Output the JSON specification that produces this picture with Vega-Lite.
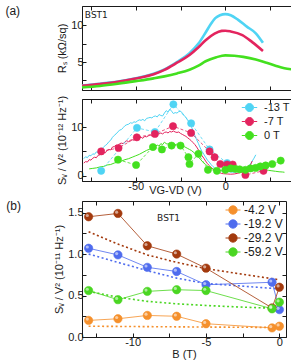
{
  "$schema": "https://vega.github.io/schema/vega-lite/v6.json",
  "padding": {"left": 4, "top": 4, "right": 10, "bottom": 2},
  "background": "white",
  "config": {
    "font": "Liberation Sans",
    "view": {"stroke": "#1a1a1a", "strokeWidth": 1},
    "axis": {"grid": false, "domainColor": "#1a1a1a", "domainWidth": 1, "tickColor": "#1a1a1a", "tickSize": -4, "tickWidth": 1,
      "labelFont": "Liberation Sans", "labelFontSize": 11, "labelColor": "#1a1a1a", "labelPadding": 3, "labelFlush": false, "labelOverlap": false,
      "titleFont": "Liberation Sans", "titleFontSize": 11, "titleFontWeight": "normal", "titleColor": "#1a1a1a", "titlePadding": 3},
    "title": {"fontWeight": "normal", "fontSize": 12, "color": "#1a1a1a", "font": "Liberation Sans"}
  },
  "datasets": {
    "rs": [
      {"s":"-13 T","v":-80,"r":1.8},{"s":"-13 T","v":-70,"r":2.05},{"s":"-13 T","v":-60,"r":2.35},{"s":"-13 T","v":-50,"r":2.8},{"s":"-13 T","v":-40,"r":3.4},{"s":"-13 T","v":-34,"r":4.0},{"s":"-13 T","v":-27,"r":5.0},{"s":"-13 T","v":-20,"r":6.2},{"s":"-13 T","v":-15,"r":7.5},{"s":"-13 T","v":-11,"r":9.0},{"s":"-13 T","v":-8,"r":10.2},{"s":"-13 T","v":-5.6,"r":10.95},{"s":"-13 T","v":-3,"r":11.35},{"s":"-13 T","v":0,"r":11.5},{"s":"-13 T","v":3,"r":11.35},{"s":"-13 T","v":7,"r":10.75},{"s":"-13 T","v":12,"r":9.8},{"s":"-13 T","v":17,"r":8.9},{"s":"-13 T","v":21,"r":7.6},
      {"s":"-7 T","v":-80,"r":1.78},{"s":"-7 T","v":-70,"r":2.02},{"s":"-7 T","v":-60,"r":2.32},{"s":"-7 T","v":-50,"r":2.76},{"s":"-7 T","v":-40,"r":3.33},{"s":"-7 T","v":-34,"r":3.93},{"s":"-7 T","v":-27,"r":4.9},{"s":"-7 T","v":-20,"r":5.95},{"s":"-7 T","v":-15,"r":7.0},{"s":"-7 T","v":-11,"r":7.95},{"s":"-7 T","v":-6,"r":8.85},{"s":"-7 T","v":-2,"r":9.22},{"s":"-7 T","v":0,"r":9.25},{"s":"-7 T","v":3,"r":9.15},{"s":"-7 T","v":9.5,"r":8.65},{"s":"-7 T","v":15,"r":7.7},{"s":"-7 T","v":21,"r":6.5},
      {"s":"0 T","v":-80,"r":1.55},{"s":"0 T","v":-70,"r":1.75},{"s":"0 T","v":-60,"r":2.05},{"s":"0 T","v":-50,"r":2.4},{"s":"0 T","v":-40,"r":2.78},{"s":"0 T","v":-34,"r":3.05},{"s":"0 T","v":-27,"r":3.45},{"s":"0 T","v":-20,"r":3.95},{"s":"0 T","v":-15,"r":4.5},{"s":"0 T","v":-11,"r":5.1},{"s":"0 T","v":-5,"r":5.65},{"s":"0 T","v":0,"r":5.9},{"s":"0 T","v":5,"r":5.85},{"s":"0 T","v":10,"r":5.7},{"s":"0 T","v":17,"r":5.35},{"s":"0 T","v":23,"r":4.9},{"s":"0 T","v":28,"r":4.5},{"s":"0 T","v":33,"r":4.15},{"s":"0 T","v":37,"r":4.0}
    ],
    "svl": [
      {"s":"-13 T","v":-79,"y":3.5},{"s":"-13 T","v":-78,"y":3.9},{"s":"-13 T","v":-77,"y":3.7},{"s":"-13 T","v":-76,"y":4.2},{"s":"-13 T","v":-75,"y":4.1},{"s":"-13 T","v":-74,"y":4.5},{"s":"-13 T","v":-73,"y":4.4},{"s":"-13 T","v":-72,"y":4.9},{"s":"-13 T","v":-71,"y":4.8},{"s":"-13 T","v":-70,"y":5.3},{"s":"-13 T","v":-69,"y":5.5},{"s":"-13 T","v":-68,"y":5.9},{"s":"-13 T","v":-67,"y":6.2},{"s":"-13 T","v":-66,"y":6.5},{"s":"-13 T","v":-65,"y":7.0},{"s":"-13 T","v":-64,"y":7.3},{"s":"-13 T","v":-63,"y":7.9},{"s":"-13 T","v":-62,"y":8.3},{"s":"-13 T","v":-61,"y":8.6},{"s":"-13 T","v":-60,"y":9.0},{"s":"-13 T","v":-59,"y":9.4},{"s":"-13 T","v":-58,"y":9.5},{"s":"-13 T","v":-57,"y":9.9},{"s":"-13 T","v":-56,"y":10.3},{"s":"-13 T","v":-55,"y":10.5},{"s":"-13 T","v":-54,"y":10.6},{"s":"-13 T","v":-53,"y":10.9},{"s":"-13 T","v":-52,"y":10.8},{"s":"-13 T","v":-51,"y":11.1},{"s":"-13 T","v":-50,"y":11.0},{"s":"-13 T","v":-49,"y":11.3},{"s":"-13 T","v":-48,"y":11.5},{"s":"-13 T","v":-47,"y":11.4},{"s":"-13 T","v":-46,"y":11.6},{"s":"-13 T","v":-45,"y":11.3},{"s":"-13 T","v":-44,"y":11.8},{"s":"-13 T","v":-43,"y":11.9},{"s":"-13 T","v":-42,"y":12.0},{"s":"-13 T","v":-41,"y":11.9},{"s":"-13 T","v":-40,"y":12.2},{"s":"-13 T","v":-39,"y":12.3},{"s":"-13 T","v":-38,"y":12.1},{"s":"-13 T","v":-37,"y":12.6},{"s":"-13 T","v":-36,"y":12.4},{"s":"-13 T","v":-35,"y":12.3},{"s":"-13 T","v":-34,"y":12.9},{"s":"-13 T","v":-33,"y":13.4},{"s":"-13 T","v":-32,"y":13.1},{"s":"-13 T","v":-31,"y":13.7},{"s":"-13 T","v":-30,"y":13.3},{"s":"-13 T","v":-29,"y":12.8},{"s":"-13 T","v":-28,"y":13.0},{"s":"-13 T","v":-27,"y":12.9},{"s":"-13 T","v":-26,"y":13.2},{"s":"-13 T","v":-25,"y":13.3},{"s":"-13 T","v":-24,"y":12.9},{"s":"-13 T","v":-23,"y":12.4},{"s":"-13 T","v":-22,"y":12.0},{"s":"-13 T","v":-21,"y":11.4},{"s":"-13 T","v":-20,"y":10.9},{"s":"-13 T","v":-19,"y":10.2},{"s":"-13 T","v":-18,"y":9.2},{"s":"-13 T","v":-17,"y":8.3},{"s":"-13 T","v":-16,"y":7.4},{"s":"-13 T","v":-15,"y":6.6},{"s":"-13 T","v":-14,"y":5.7},{"s":"-13 T","v":-13,"y":5.0},{"s":"-13 T","v":-12,"y":4.4},{"s":"-13 T","v":-11,"y":3.8},{"s":"-13 T","v":-10,"y":3.2},{"s":"-13 T","v":-9,"y":2.8},{"s":"-13 T","v":-8,"y":2.3},{"s":"-13 T","v":-7,"y":1.9},{"s":"-13 T","v":-6,"y":1.6},{"s":"-13 T","v":-5,"y":1.4},{"s":"-13 T","v":-4,"y":1.2},{"s":"-13 T","v":-3,"y":1.1},{"s":"-13 T","v":-2,"y":1.0},{"s":"-13 T","v":-1,"y":0.9},{"s":"-13 T","v":0,"y":0.9},{"s":"-13 T","v":2,"y":0.8},{"s":"-13 T","v":4,"y":0.7},{"s":"-13 T","v":6,"y":0.75},{"s":"-13 T","v":8,"y":0.9},{"s":"-13 T","v":10,"y":1.1},{"s":"-13 T","v":12,"y":1.6},{"s":"-13 T","v":14,"y":2.4},{"s":"-13 T","v":15,"y":3.0},{"s":"-13 T","v":16,"y":3.6},{"s":"-13 T","v":17,"y":4.3},
      {"s":"-7 T","v":-79,"y":2.6},{"s":"-7 T","v":-78,"y":2.9},{"s":"-7 T","v":-77,"y":2.8},{"s":"-7 T","v":-76,"y":3.3},{"s":"-7 T","v":-75,"y":3.2},{"s":"-7 T","v":-74,"y":3.6},{"s":"-7 T","v":-73,"y":3.8},{"s":"-7 T","v":-72,"y":3.7},{"s":"-7 T","v":-71,"y":4.2},{"s":"-7 T","v":-70,"y":4.3},{"s":"-7 T","v":-69,"y":4.5},{"s":"-7 T","v":-68,"y":4.8},{"s":"-7 T","v":-67,"y":4.7},{"s":"-7 T","v":-66,"y":5.2},{"s":"-7 T","v":-65,"y":5.4},{"s":"-7 T","v":-64,"y":5.3},{"s":"-7 T","v":-63,"y":5.9},{"s":"-7 T","v":-62,"y":6.0},{"s":"-7 T","v":-61,"y":6.3},{"s":"-7 T","v":-60,"y":6.2},{"s":"-7 T","v":-59,"y":6.6},{"s":"-7 T","v":-58,"y":6.7},{"s":"-7 T","v":-57,"y":6.6},{"s":"-7 T","v":-56,"y":7.0},{"s":"-7 T","v":-55,"y":7.2},{"s":"-7 T","v":-54,"y":7.0},{"s":"-7 T","v":-53,"y":7.3},{"s":"-7 T","v":-52,"y":7.4},{"s":"-7 T","v":-51,"y":7.3},{"s":"-7 T","v":-50,"y":7.6},{"s":"-7 T","v":-49,"y":7.5},{"s":"-7 T","v":-48,"y":7.8},{"s":"-7 T","v":-47,"y":7.9},{"s":"-7 T","v":-46,"y":7.7},{"s":"-7 T","v":-45,"y":8.1},{"s":"-7 T","v":-44,"y":8.0},{"s":"-7 T","v":-43,"y":8.2},{"s":"-7 T","v":-42,"y":8.4},{"s":"-7 T","v":-41,"y":8.2},{"s":"-7 T","v":-40,"y":8.5},{"s":"-7 T","v":-39,"y":8.4},{"s":"-7 T","v":-38,"y":8.7},{"s":"-7 T","v":-37,"y":8.6},{"s":"-7 T","v":-36,"y":8.8},{"s":"-7 T","v":-35,"y":8.6},{"s":"-7 T","v":-34,"y":8.9},{"s":"-7 T","v":-33,"y":9.0},{"s":"-7 T","v":-32,"y":8.8},{"s":"-7 T","v":-31,"y":9.1},{"s":"-7 T","v":-30,"y":9.0},{"s":"-7 T","v":-29,"y":9.2},{"s":"-7 T","v":-28,"y":9.0},{"s":"-7 T","v":-27,"y":8.9},{"s":"-7 T","v":-26,"y":9.0},{"s":"-7 T","v":-25,"y":8.7},{"s":"-7 T","v":-24,"y":8.5},{"s":"-7 T","v":-23,"y":8.3},{"s":"-7 T","v":-22,"y":8.1},{"s":"-7 T","v":-21,"y":7.8},{"s":"-7 T","v":-20,"y":7.5},{"s":"-7 T","v":-19,"y":7.2},{"s":"-7 T","v":-18,"y":6.8},{"s":"-7 T","v":-17,"y":6.4},{"s":"-7 T","v":-16,"y":5.9},{"s":"-7 T","v":-15,"y":5.3},{"s":"-7 T","v":-14,"y":4.7},{"s":"-7 T","v":-13,"y":4.1},{"s":"-7 T","v":-12,"y":3.6},{"s":"-7 T","v":-11,"y":3.0},{"s":"-7 T","v":-10,"y":2.5},{"s":"-7 T","v":-9,"y":2.1},{"s":"-7 T","v":-8,"y":1.7},{"s":"-7 T","v":-7,"y":1.4},{"s":"-7 T","v":-6,"y":1.1},{"s":"-7 T","v":-5,"y":0.9},{"s":"-7 T","v":-4,"y":0.7},{"s":"-7 T","v":-3,"y":0.6},{"s":"-7 T","v":-2,"y":0.45},{"s":"-7 T","v":-1,"y":0.4},{"s":"-7 T","v":1,"y":0.35},{"s":"-7 T","v":3,"y":0.3},{"s":"-7 T","v":5,"y":0.35},{"s":"-7 T","v":7,"y":0.5},{"s":"-7 T","v":9,"y":0.7},{"s":"-7 T","v":11,"y":1.0},{"s":"-7 T","v":13,"y":1.6},{"s":"-7 T","v":14,"y":2.2},{"s":"-7 T","v":15,"y":3.0},
      {"s":"0 T","v":-76,"y":1.4},{"s":"0 T","v":-74,"y":1.5},{"s":"0 T","v":-72,"y":1.6},{"s":"0 T","v":-70,"y":1.8},{"s":"0 T","v":-68,"y":1.9},{"s":"0 T","v":-66,"y":2.2},{"s":"0 T","v":-64,"y":2.3},{"s":"0 T","v":-62,"y":2.6},{"s":"0 T","v":-60,"y":2.8},{"s":"0 T","v":-58,"y":3.0},{"s":"0 T","v":-56,"y":3.3},{"s":"0 T","v":-54,"y":3.5},{"s":"0 T","v":-52,"y":3.8},{"s":"0 T","v":-50,"y":4.1},{"s":"0 T","v":-48,"y":4.4},{"s":"0 T","v":-46,"y":4.8},{"s":"0 T","v":-44,"y":5.2},{"s":"0 T","v":-42,"y":5.5},{"s":"0 T","v":-40,"y":5.9},{"s":"0 T","v":-38,"y":6.3},{"s":"0 T","v":-37,"y":6.1},{"s":"0 T","v":-36,"y":6.6},{"s":"0 T","v":-35,"y":6.4},{"s":"0 T","v":-34,"y":6.9},{"s":"0 T","v":-33,"y":6.6},{"s":"0 T","v":-32,"y":6.5},{"s":"0 T","v":-31,"y":6.7},{"s":"0 T","v":-30,"y":6.5},{"s":"0 T","v":-29,"y":6.6},{"s":"0 T","v":-28,"y":6.4},{"s":"0 T","v":-27,"y":6.5},{"s":"0 T","v":-26,"y":6.2},{"s":"0 T","v":-25,"y":6.3},{"s":"0 T","v":-24,"y":6.1},{"s":"0 T","v":-23,"y":6.0},{"s":"0 T","v":-22,"y":5.8},{"s":"0 T","v":-21,"y":5.6},{"s":"0 T","v":-20,"y":5.4},{"s":"0 T","v":-19,"y":5.2},{"s":"0 T","v":-18,"y":4.9},{"s":"0 T","v":-17,"y":4.6},{"s":"0 T","v":-16,"y":4.2},{"s":"0 T","v":-15,"y":3.8},{"s":"0 T","v":-14,"y":3.4},{"s":"0 T","v":-13,"y":3.0},{"s":"0 T","v":-12,"y":2.6},{"s":"0 T","v":-11,"y":2.3},{"s":"0 T","v":-10,"y":2.0},{"s":"0 T","v":-9,"y":1.8},{"s":"0 T","v":-8,"y":1.5},{"s":"0 T","v":-7,"y":1.4},{"s":"0 T","v":-6,"y":1.2},{"s":"0 T","v":-5,"y":1.1},{"s":"0 T","v":-4,"y":1.0},{"s":"0 T","v":-2,"y":1.0},{"s":"0 T","v":0,"y":1.0},{"s":"0 T","v":2,"y":1.1},{"s":"0 T","v":4,"y":1.1},{"s":"0 T","v":6,"y":1.2},{"s":"0 T","v":8,"y":1.1},{"s":"0 T","v":10,"y":1.2},{"s":"0 T","v":12,"y":1.4},{"s":"0 T","v":14,"y":1.5},{"s":"0 T","v":16,"y":1.7},{"s":"0 T","v":18,"y":1.8},{"s":"0 T","v":20,"y":1.6},{"s":"0 T","v":22,"y":1.3},{"s":"0 T","v":24,"y":1.1},{"s":"0 T","v":26,"y":1.0},{"s":"0 T","v":28,"y":0.9},{"s":"0 T","v":30,"y":0.8},{"s":"0 T","v":32,"y":0.75},{"s":"0 T","v":33,"y":0.7}
    ],
    "svp": [
      {"s":"-13 T","v":-69.3,"y":1.0},{"s":"-13 T","v":-49.3,"y":9.85},{"s":"-13 T","v":-39.3,"y":9.0},{"s":"-13 T","v":-29.0,"y":14.7},{"s":"-13 T","v":-19.1,"y":10.8},{"s":"-13 T","v":-8.8,"y":5.4},{"s":"-13 T","v":1.0,"y":2.6},
      {"s":"-7 T","v":-69.3,"y":5.0},{"s":"-7 T","v":-59.6,"y":5.7},{"s":"-7 T","v":-49.4,"y":7.9},{"s":"-7 T","v":-39.3,"y":8.6},{"s":"-7 T","v":-29.2,"y":10.2},{"s":"-7 T","v":-19.1,"y":8.8},{"s":"-7 T","v":-8.8,"y":5.0},{"s":"-7 T","v":-6.0,"y":3.8},{"s":"-7 T","v":-2.8,"y":2.4},{"s":"-7 T","v":1.0,"y":2.3},{"s":"-7 T","v":4.1,"y":2.3},{"s":"-7 T","v":11.2,"y":0.15},{"s":"-7 T","v":21.3,"y":1.0},
      {"s":"0 T","v":-59.9,"y":3.3},{"s":"0 T","v":-49.8,"y":2.2},{"s":"0 T","v":-40.4,"y":5.9},{"s":"0 T","v":-35.4,"y":5.4},{"s":"0 T","v":-30.0,"y":6.2},{"s":"0 T","v":-25.0,"y":6.2},{"s":"0 T","v":-20.6,"y":3.8},{"s":"0 T","v":-20.0,"y":2.4},{"s":"0 T","v":-15.0,"y":4.5},{"s":"0 T","v":-9.7,"y":1.2},{"s":"0 T","v":-4.7,"y":1.0},{"s":"0 T","v":0,"y":1.2},{"s":"0 T","v":3,"y":1.5},{"s":"0 T","v":5.6,"y":1.4},{"s":"0 T","v":8,"y":1.3},{"s":"0 T","v":11.2,"y":1.2},{"s":"0 T","v":14,"y":1.5},{"s":"0 T","v":16.9,"y":1.6},{"s":"0 T","v":19.5,"y":1.9},{"s":"0 T","v":22.5,"y":2.1},{"s":"0 T","v":26.2,"y":2.4},{"s":"0 T","v":30.9,"y":3.1}
    ],
    "bfit": [
      {"s":"-4.2 V","b":-13,"y":0.13},{"s":"-4.2 V","b":-9,"y":0.125},{"s":"-4.2 V","b":-5,"y":0.12},{"s":"-4.2 V","b":0,"y":0.115},
      {"s":"-19.2 V","b":-13,"y":1.0},{"s":"-19.2 V","b":-11,"y":0.9},{"s":"-19.2 V","b":-9,"y":0.8},{"s":"-19.2 V","b":-7,"y":0.71},{"s":"-19.2 V","b":-5,"y":0.645},{"s":"-19.2 V","b":-3,"y":0.62},{"s":"-19.2 V","b":-1.5,"y":0.6},{"s":"-19.2 V","b":0,"y":0.58},
      {"s":"-29.2 V","b":-13,"y":1.27},{"s":"-29.2 V","b":-11,"y":1.12},{"s":"-29.2 V","b":-9,"y":0.99},{"s":"-29.2 V","b":-7,"y":0.9},{"s":"-29.2 V","b":-5,"y":0.825},{"s":"-29.2 V","b":-3,"y":0.77},{"s":"-29.2 V","b":-1.5,"y":0.73},{"s":"-29.2 V","b":0,"y":0.69},
      {"s":"-59.2 V","b":-13,"y":0.55},{"s":"-59.2 V","b":-11,"y":0.48},{"s":"-59.2 V","b":-9,"y":0.43},{"s":"-59.2 V","b":-7,"y":0.4},{"s":"-59.2 V","b":-5,"y":0.38},{"s":"-59.2 V","b":-2.5,"y":0.36},{"s":"-59.2 V","b":0,"y":0.345}
    ],
    "bpts": [
      {"s":"-4.2 V","b":-13,"y":0.20},{"s":"-4.2 V","b":-11,"y":0.22},{"s":"-4.2 V","b":-9,"y":0.26},{"s":"-4.2 V","b":-7,"y":0.25},{"s":"-4.2 V","b":-5,"y":0.16},{"s":"-4.2 V","b":-0.5,"y":0.11},{"s":"-4.2 V","b":0,"y":0.13},
      {"s":"-19.2 V","b":-13,"y":1.07},{"s":"-19.2 V","b":-11,"y":0.99},{"s":"-19.2 V","b":-9,"y":0.84},{"s":"-19.2 V","b":-7,"y":0.79},{"s":"-19.2 V","b":-5,"y":0.63},{"s":"-19.2 V","b":-0.5,"y":0.66},{"s":"-19.2 V","b":0,"y":0.33},
      {"s":"-29.2 V","b":-13,"y":1.45},{"s":"-29.2 V","b":-11,"y":1.49},{"s":"-29.2 V","b":-9,"y":1.10},{"s":"-29.2 V","b":-7,"y":1.00},{"s":"-29.2 V","b":-5,"y":0.83},{"s":"-29.2 V","b":-0.5,"y":0.35},{"s":"-29.2 V","b":0,"y":0.60},
      {"s":"-59.2 V","b":-13,"y":0.56},{"s":"-59.2 V","b":-11,"y":0.45},{"s":"-59.2 V","b":-9,"y":0.55},{"s":"-59.2 V","b":-7,"y":0.57},{"s":"-59.2 V","b":-5,"y":0.56},{"s":"-59.2 V","b":-0.5,"y":0.34},{"s":"-59.2 V","b":0,"y":0.42}
    ]
  },
  "concat": [
    {
      "vconcat": [
        {
          "width": 215, "height": 84,
          "title": {"text": "(a)", "orient": "left", "angle": 0, "anchor": "end", "align": "right", "baseline": "top", "offset": 22},
          "layer": [
            {
              "data": {"name": "rs"},
              "mark": {"type": "line", "strokeWidth": 2.6, "interpolate": "monotone"},
              "encoding": {
                "x": {"field": "v", "type": "quantitative", "scale": {"domain": [-80, 40], "nice": false, "zero": false}, "axis": {"orient": "bottom", "values": [-75, -50, -25, 0, 25], "labels": false, "title": null, "minExtent": 0}},
                "y": {"field": "r", "type": "quantitative", "scale": {"domain": [1.2, 12.6], "nice": false, "zero": false}, "axis": {"orient": "left", "values": [2.5, 5, 7.5, 10], "labelExpr": "datum.value === 5 || datum.value === 10 ? datum.label : ''", "title": "Rₛ (kΩ/sq)"}},
                "color": {"field": "s", "type": "nominal", "scale": {"domain": ["-13 T", "-7 T", "0 T"], "range": ["#4fd4f4", "#e3245e", "#43e01f"]}, "legend": null}
              }
            },
            {
              "data": {"name": "rs"},
              "mark": {"type": "line", "opacity": 0},
              "encoding": {
                "x": {"field": "v", "type": "quantitative", "axis": {"orient": "top", "values": [-75, -50, -25, 0, 25], "labels": false, "title": null, "domain": false, "minExtent": 0}},
                "y": {"field": "r", "type": "quantitative", "axis": {"orient": "right", "values": [2.5, 5, 7.5, 10], "labels": false, "title": null, "domain": false, "minExtent": 0}}
              }
            },
            {
              "data": {"values": [{"t": "BST1"}]},
              "mark": {"type": "text", "font": "DejaVu Sans", "fontSize": 9, "color": "#1a1a1a", "align": "center"},
              "encoding": {
                "x": {"datum": -72, "type": "quantitative", "axis": null},
                "y": {"datum": 11.4, "type": "quantitative", "axis": null},
                "text": {"field": "t"}
              }
            }
          ],
          "resolve": {"axis": {"x": "independent", "y": "independent"}}
        },
        {
          "width": 215, "height": 82,
          "layer": [
            {
              "data": {"name": "svl"},
              "mark": {"type": "line", "strokeWidth": 1},
              "encoding": {
                "x": {"field": "v", "type": "quantitative", "scale": {"domain": [-80, 40], "nice": false, "zero": false}, "axis": {"orient": "bottom", "values": [-75, -50, -25, 0, 25], "labelExpr": "datum.value === -50 ? '-50' : datum.value === 0 ? '0' : ''", "title": "VG-VD (V)", "titleX": 93, "titleY": 3, "titleBaseline": "top", "titleAlign": "center"}},
                "y": {"field": "y", "type": "quantitative", "scale": {"domain": [-1.1, 15.8], "nice": false, "zero": false}, "axis": {"orient": "left", "values": [0, 5, 10], "labelExpr": "datum.value === 5 ? '' : datum.label", "title": "Sᵥ / V² (10⁻¹² Hz⁻¹)"}},
                "color": {"field": "s", "type": "nominal", "scale": {"range": ["#4fd4f4", "#e3245e", "#43e01f"]}, "legend": null}
              }
            },
            {
              "data": {"name": "svl"},
              "mark": {"type": "line", "opacity": 0},
              "encoding": {
                "x": {"field": "v", "type": "quantitative", "axis": {"orient": "top", "values": [-75, -50, -25, 0, 25], "labels": false, "title": null, "domain": false, "minExtent": 0}},
                "y": {"field": "y", "type": "quantitative", "axis": {"orient": "right", "values": [0, 5, 10], "labels": false, "title": null, "domain": false, "minExtent": 0}}
              }
            },
            {
              "data": {"name": "svp"},
              "mark": {"type": "line", "strokeWidth": 0.8, "strokeDash": [3, 2]},
              "encoding": {
                "x": {"field": "v", "type": "quantitative", "axis": null},
                "y": {"field": "y", "type": "quantitative", "axis": null},
                "color": {"field": "s", "type": "nominal", "legend": null}
              }
            },
            {
              "data": {"name": "svp"},
              "mark": {"type": "circle", "size": 52, "opacity": 1, "strokeWidth": 0.6},
              "encoding": {
                "x": {"field": "v", "type": "quantitative", "axis": null},
                "y": {"field": "y", "type": "quantitative", "axis": null},
                "fill": {"field": "s", "type": "nominal", "scale": {"domain": ["-13 T", "-7 T", "0 T"], "range": ["#4fd4f4", "#e3245e", "#43e01f"]},
                  "legend": {"orient": "none", "legendX": 160, "legendY": 1, "padding": 0, "title": null, "labelFontSize": 11, "labelFont": "Liberation Sans", "labelColor": "#1a1a1a", "labelLimit": 60, "symbolType": "M-1.1,0H-0.6M0.6,0H1.1M-0.57,0A0.57,0.57,0,1,1,0.57,0A0.57,0.57,0,1,1,-0.57,0Z", "symbolSize": 196, "symbolStrokeWidth": 1, "rowPadding": 0, "labelOffset": 7}},
                "stroke": {"field": "s", "type": "nominal", "scale": {"domain": ["-13 T", "-7 T", "0 T"], "range": ["#4fd4f4", "#e3245e", "#43e01f"]}}
              }
            }
          ],
          "resolve": {"axis": {"x": "independent", "y": "independent"}}
        }
      ],
      "spacing": 0,
      "resolve": {"scale": {"color": "independent", "fill": "independent", "stroke": "independent"}, "legend": {"color": "independent", "fill": "independent", "stroke": "independent"}}
    },
    {
      "width": 204, "height": 136,
      "title": {"text": "(b)", "orient": "left", "angle": 0, "anchor": "end", "align": "right", "baseline": "top", "offset": 18},
      "layer": [
        {
          "data": {"name": "bfit"},
          "mark": {"type": "line", "strokeWidth": 1.6, "strokeDash": [2, 2.5]},
          "encoding": {
            "x": {"field": "b", "type": "quantitative", "scale": {"domain": [-13.45, 0.45], "nice": false, "zero": false}, "axis": {"orient": "bottom", "values": [-12.5, -10, -7.5, -5, -2.5, 0], "labelExpr": "datum.value === -10 ? '-10' : datum.value === -5 ? '-5' : datum.value === 0 ? '0' : ''", "title": "B (T)", "titlePadding": 1}},
            "y": {"field": "y", "type": "quantitative", "scale": {"domain": [0, 1.64], "nice": false, "zero": false}, "axis": {"orient": "left", "values": [0, 0.25, 0.5, 0.75, 1, 1.25, 1.5], "labelExpr": "datum.value % 0.5 === 0 ? format(datum.value, '.1f') : ''", "title": "Sᵥ / V² (10⁻¹¹ Hz⁻¹)"}},
            "color": {"field": "s", "type": "nominal", "scale": {"range": ["#4f6cee", "#a33a0e", "#f5902c", "#4ad622"]}, "legend": null}
          }
        },
        {
          "data": {"name": "bfit"},
          "mark": {"type": "line", "opacity": 0},
          "encoding": {
            "x": {"field": "b", "type": "quantitative", "axis": {"orient": "top", "values": [-12.5, -10, -7.5, -5, -2.5, 0], "labels": false, "title": null, "domain": false, "minExtent": 0}},
            "y": {"field": "y", "type": "quantitative", "axis": {"orient": "right", "values": [0, 0.25, 0.5, 0.75, 1, 1.25, 1.5], "labels": false, "title": null, "domain": false, "minExtent": 0}}
          }
        },
        {
          "data": {"name": "bpts"},
          "mark": {"type": "line", "strokeWidth": 0.9, "opacity": 0.9},
          "encoding": {
            "x": {"field": "b", "type": "quantitative", "axis": null},
            "y": {"field": "y", "type": "quantitative", "axis": null},
            "color": {"field": "s", "type": "nominal", "legend": null}
          }
        },
        {
          "data": {"name": "bpts"},
          "mark": {"type": "circle", "size": 70, "opacity": 1, "strokeWidth": 0.6},
          "encoding": {
            "x": {"field": "b", "type": "quantitative", "axis": null},
            "y": {"field": "y", "type": "quantitative", "axis": null},
            "fill": {"field": "s", "type": "nominal", "scale": {"domain": ["-4.2 V", "-19.2 V", "-29.2 V", "-59.2 V"], "range": ["#f5902c", "#4f6cee", "#a33a0e", "#4ad622"]},
              "legend": {"orient": "none", "legendX": 144, "legendY": 2, "padding": 0, "title": null, "labelFontSize": 12, "labelFont": "Liberation Sans", "labelColor": "#1a1a1a", "symbolType": "M-1.15,0H-0.65M0.65,0H1.15M-0.64,0A0.64,0.64,0,1,1,0.64,0A0.64,0.64,0,1,1,-0.64,0Z", "symbolSize": 169, "symbolStrokeWidth": 1, "rowPadding": 0, "labelOffset": 4}},
            "stroke": {"field": "s", "type": "nominal", "scale": {"domain": ["-4.2 V", "-19.2 V", "-29.2 V", "-59.2 V"], "range": ["#f5902c", "#4f6cee", "#a33a0e", "#4ad622"]}}
          }
        },
        {
          "data": {"name": "bpts"},
          "mark": {"type": "circle", "size": 10, "color": "white", "opacity": 0.55},
          "encoding": {
            "x": {"field": "b", "type": "quantitative", "axis": null},
            "y": {"field": "y", "type": "quantitative", "axis": null},
            "xOffset": {"value": -1.3},
            "yOffset": {"value": -1.3}
          }
        },
        {
          "data": {"values": [{"t": "BST1"}]},
          "mark": {"type": "text", "font": "DejaVu Sans", "fontSize": 9, "color": "#1a1a1a", "align": "center"},
          "encoding": {
            "x": {"datum": -7.55, "type": "quantitative", "axis": null},
            "y": {"datum": 1.43, "type": "quantitative", "axis": null},
            "text": {"field": "t"}
          }
        }
      ],
      "resolve": {"axis": {"x": "independent", "y": "independent"}}
    }
  ],
  "columns": 1,
  "align": "none",
  "spacing": 3,
  "resolve": {"scale": {"color": "independent", "fill": "independent", "stroke": "independent"}, "legend": {"color": "independent", "fill": "independent", "stroke": "independent"}}
}
